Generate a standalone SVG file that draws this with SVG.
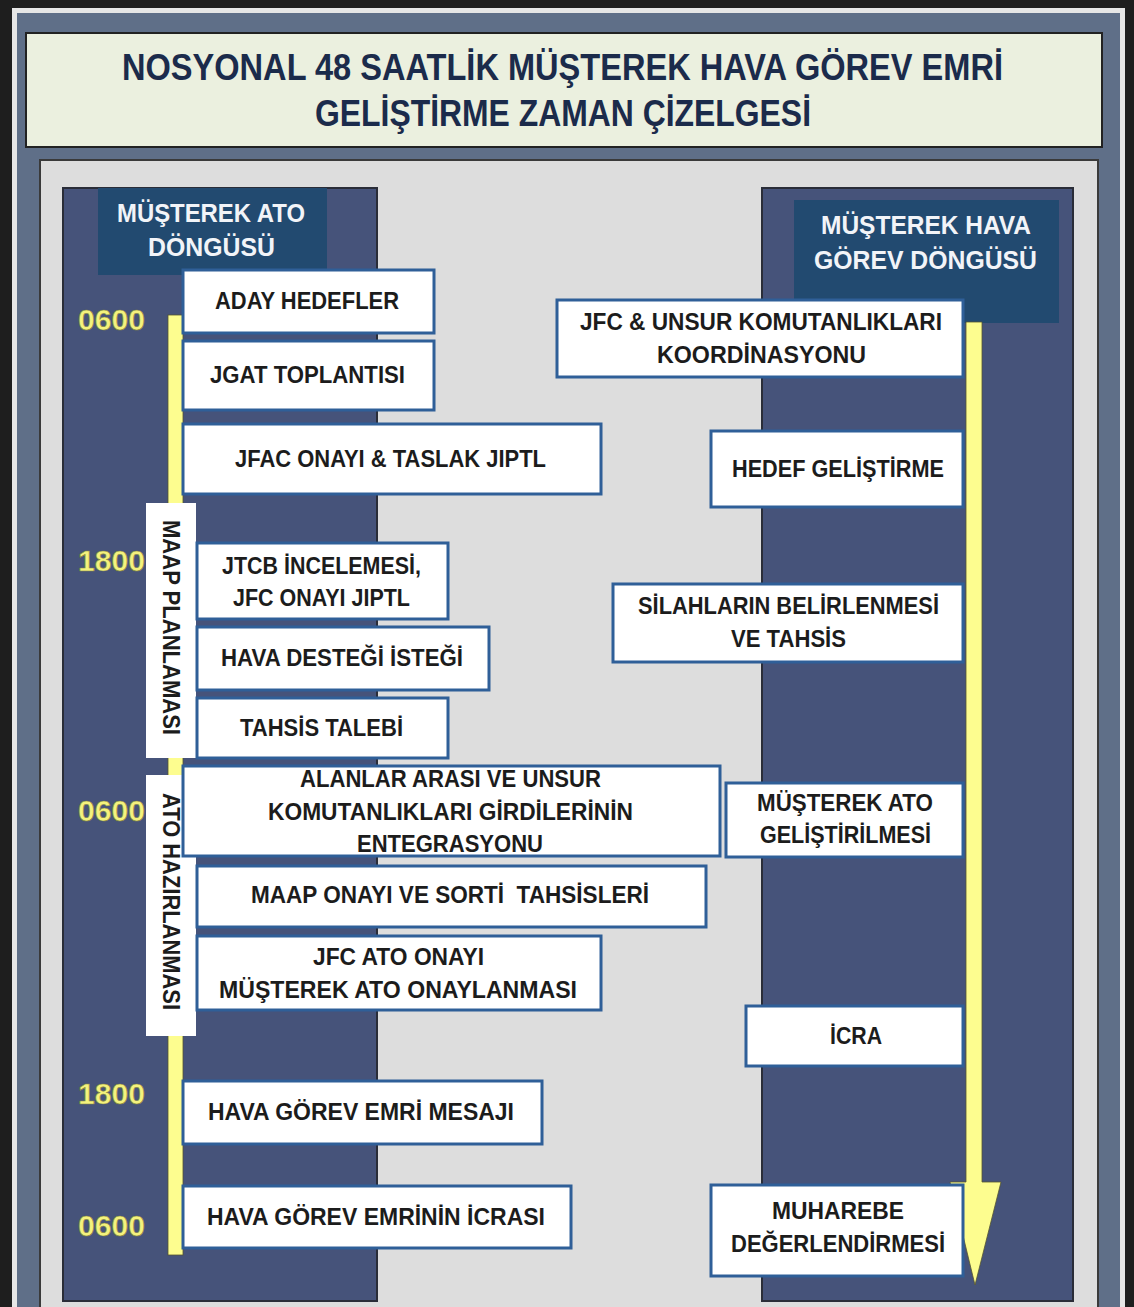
<svg xmlns="http://www.w3.org/2000/svg" width="1134" height="1307" viewBox="0 0 1134 1307">
<style>
.bt{font-family:"Liberation Sans",Arial,sans-serif;font-weight:bold;font-size:23px;fill:#1c1c1c;text-anchor:middle}
.ht{font-family:"Liberation Sans",Arial,sans-serif;font-weight:bold;font-size:26px;fill:#f2f4f8;text-anchor:middle}
.tt{font-family:"Liberation Sans",Arial,sans-serif;font-weight:bold;font-size:36px;fill:#1b2b4b;text-anchor:middle}
.tm{font-family:"Liberation Sans",Arial,sans-serif;font-weight:bold;font-size:29px;fill:#f4f27e;stroke:#8a8a3a;stroke-width:0.6}
.box{fill:#ffffff;stroke:#2f5f98;stroke-width:3}
.vl{fill:#ffffff}
.col{fill:#46537a;stroke:#2a2d38;stroke-width:2}
.hdr{fill:#224a70}
.yl{fill:#fdfd8f;stroke:#555530;stroke-width:0.8}
</style>
<rect x="0" y="0" width="1134" height="1307" fill="#1e1e1e"/>
<rect x="12" y="8" width="1113" height="1299" fill="#e6e6e6"/>
<rect x="17" y="13" width="1103" height="1294" fill="#5f6f88"/>
<g id="title">
<rect x="26" y="33" width="1076" height="114" fill="#ebf0df" stroke="#222222" stroke-width="2"/>
<text class="tt" x="562.5" y="80" textLength="881" lengthAdjust="spacingAndGlyphs">NOSYONAL 48 SAATLİK MÜŞTEREK HAVA GÖREV EMRİ</text>
<text class="tt" x="563" y="126" textLength="496" lengthAdjust="spacingAndGlyphs">GELİŞTİRME ZAMAN ÇİZELGESİ</text>
</g>
<rect x="40" y="160" width="1058" height="1150" fill="#dddddd" stroke="#3a3a3a" stroke-width="2"/>
<g id="left-column">
<rect class="col" x="63" y="188" width="314" height="1113"/>
<rect class="hdr" x="98" y="188" width="229" height="87"/>
<text class="ht" x="211" y="222" textLength="188" lengthAdjust="spacingAndGlyphs">MÜŞTEREK ATO</text>
<text class="ht" x="211.5" y="256" textLength="127" lengthAdjust="spacingAndGlyphs">DÖNGÜSÜ</text>
</g>
<g id="right-column">
<rect class="col" x="762" y="188" width="311" height="1113"/>
<rect class="hdr" x="794" y="200" width="265" height="123"/>
<text class="ht" x="926" y="234" textLength="210" lengthAdjust="spacingAndGlyphs">MÜŞTEREK HAVA</text>
<text class="ht" x="925.5" y="269" textLength="223" lengthAdjust="spacingAndGlyphs">GÖREV DÖNGÜSÜ</text>
</g>
<g id="time-labels">
<text class="tm" x="78" y="330" textLength="67" lengthAdjust="spacingAndGlyphs">0600</text>
<text class="tm" x="78" y="571" textLength="67" lengthAdjust="spacingAndGlyphs">1800</text>
<text class="tm" x="78" y="821" textLength="67" lengthAdjust="spacingAndGlyphs">0600</text>
<text class="tm" x="78" y="1104" textLength="67" lengthAdjust="spacingAndGlyphs">1800</text>
<text class="tm" x="78" y="1236" textLength="67" lengthAdjust="spacingAndGlyphs">0600</text>
</g>
<g id="connectors">
<rect class="yl" x="168" y="315" width="15" height="940"/>
<polygon class="yl" points="966,322 982,322 982,1182 1001,1182 975,1285 950,1182 966,1182"/>
</g>
<g id="maap-planlamasi">
<rect class="vl" x="146" y="503" width="50" height="255"/>
<text class="bt" transform="translate(171,627.5) rotate(90)" x="0" y="8" textLength="215" lengthAdjust="spacingAndGlyphs">MAAP PLANLAMASI</text>
</g>
<g id="ato-hazirlanmasi">
<rect class="vl" x="146" y="775" width="50" height="261"/>
<text class="bt" transform="translate(171,901.5) rotate(90)" x="0" y="8" textLength="217" lengthAdjust="spacingAndGlyphs">ATO HAZIRLANMASI</text>
</g>
<g id="aday-hedefler">
<rect class="box" x="183" y="270" width="251" height="63"/>
<text class="bt" x="307" y="309" textLength="184" lengthAdjust="spacingAndGlyphs">ADAY HEDEFLER</text>
</g>
<g id="jgat-toplantisi">
<rect class="box" x="183" y="341" width="251" height="69"/>
<text class="bt" x="307.5" y="383" textLength="195" lengthAdjust="spacingAndGlyphs">JGAT TOPLANTISI</text>
</g>
<g id="jfac-onayi">
<rect class="box" x="183" y="424" width="418" height="70"/>
<text class="bt" x="390.5" y="467" textLength="311" lengthAdjust="spacingAndGlyphs">JFAC ONAYI &amp; TASLAK JIPTL</text>
</g>
<g id="jtcb-incelemesi">
<rect class="box" x="197" y="543" width="251" height="76"/>
<text class="bt" x="321.5" y="574" textLength="199" lengthAdjust="spacingAndGlyphs">JTCB İNCELEMESİ,</text>
<text class="bt" x="321.5" y="606" textLength="177" lengthAdjust="spacingAndGlyphs">JFC ONAYI JIPTL</text>
</g>
<g id="hava-destegi">
<rect class="box" x="197" y="627" width="292" height="63"/>
<text class="bt" x="342" y="666" textLength="242" lengthAdjust="spacingAndGlyphs">HAVA DESTEĞİ İSTEĞİ</text>
</g>
<g id="tahsis-talebi">
<rect class="box" x="197" y="698" width="251" height="60"/>
<text class="bt" x="321.5" y="736" textLength="163" lengthAdjust="spacingAndGlyphs">TAHSİS TALEBİ</text>
</g>
<g id="alanlar-arasi">
<rect class="box" x="183" y="766" width="537" height="90"/>
<text class="bt" x="450.5" y="787" textLength="301" lengthAdjust="spacingAndGlyphs">ALANLAR ARASI VE UNSUR</text>
<text class="bt" x="450.5" y="820" textLength="365" lengthAdjust="spacingAndGlyphs">KOMUTANLIKLARI GİRDİLERİNİN</text>
<text class="bt" x="450" y="852" textLength="186" lengthAdjust="spacingAndGlyphs">ENTEGRASYONU</text>
</g>
<g id="maap-onayi">
<rect class="box" x="197" y="866" width="509" height="61"/>
<text class="bt" x="450" y="903" textLength="398" lengthAdjust="spacingAndGlyphs" xml:space="preserve">MAAP ONAYI VE SORTİ  TAHSİSLERİ</text>
</g>
<g id="jfc-ato-onayi">
<rect class="box" x="197" y="936" width="404" height="74"/>
<text class="bt" x="398.5" y="965" textLength="171" lengthAdjust="spacingAndGlyphs">JFC ATO ONAYI</text>
<text class="bt" x="398" y="998" textLength="358" lengthAdjust="spacingAndGlyphs">MÜŞTEREK ATO ONAYLANMASI</text>
</g>
<g id="hava-gorev-emri-mesaji">
<rect class="box" x="183" y="1081" width="359" height="63"/>
<text class="bt" x="361" y="1120" textLength="306" lengthAdjust="spacingAndGlyphs">HAVA GÖREV EMRİ MESAJI</text>
</g>
<g id="hava-gorev-emrinin-icrasi">
<rect class="box" x="183" y="1186" width="388" height="62"/>
<text class="bt" x="376" y="1225" textLength="338" lengthAdjust="spacingAndGlyphs">HAVA GÖREV EMRİNİN İCRASI</text>
</g>
<g id="jfc-unsur">
<rect class="box" x="557" y="300" width="406" height="77"/>
<text class="bt" x="761" y="330" textLength="362" lengthAdjust="spacingAndGlyphs">JFC &amp; UNSUR KOMUTANLIKLARI</text>
<text class="bt" x="761.5" y="363" textLength="209" lengthAdjust="spacingAndGlyphs">KOORDİNASYONU</text>
</g>
<g id="hedef-gelistirme">
<rect class="box" x="711" y="431" width="252" height="76"/>
<text class="bt" x="838" y="477" textLength="212" lengthAdjust="spacingAndGlyphs">HEDEF GELİŞTİRME</text>
</g>
<g id="silahlarin-belirlenmesi">
<rect class="box" x="613" y="584" width="350" height="78"/>
<text class="bt" x="788.5" y="614" textLength="301" lengthAdjust="spacingAndGlyphs">SİLAHLARIN BELİRLENMESİ</text>
<text class="bt" x="788.5" y="647" textLength="115" lengthAdjust="spacingAndGlyphs">VE TAHSİS</text>
</g>
<g id="musterek-ato-gelistirilmesi">
<rect class="box" x="726" y="783" width="237" height="74"/>
<text class="bt" x="845" y="811" textLength="176" lengthAdjust="spacingAndGlyphs">MÜŞTEREK ATO</text>
<text class="bt" x="845.5" y="843" textLength="171" lengthAdjust="spacingAndGlyphs">GELİŞTİRİLMESİ</text>
</g>
<g id="icra">
<rect class="box" x="746" y="1006" width="217" height="60"/>
<text class="bt" x="856" y="1044" textLength="52" lengthAdjust="spacingAndGlyphs">İCRA</text>
</g>
<g id="muharebe-degerlendirmesi">
<rect class="box" x="711" y="1185" width="252" height="91"/>
<text class="bt" x="838" y="1219" textLength="132" lengthAdjust="spacingAndGlyphs">MUHAREBE</text>
<text class="bt" x="838" y="1252" textLength="214" lengthAdjust="spacingAndGlyphs">DEĞERLENDİRMESİ</text>
</g>
</svg>
